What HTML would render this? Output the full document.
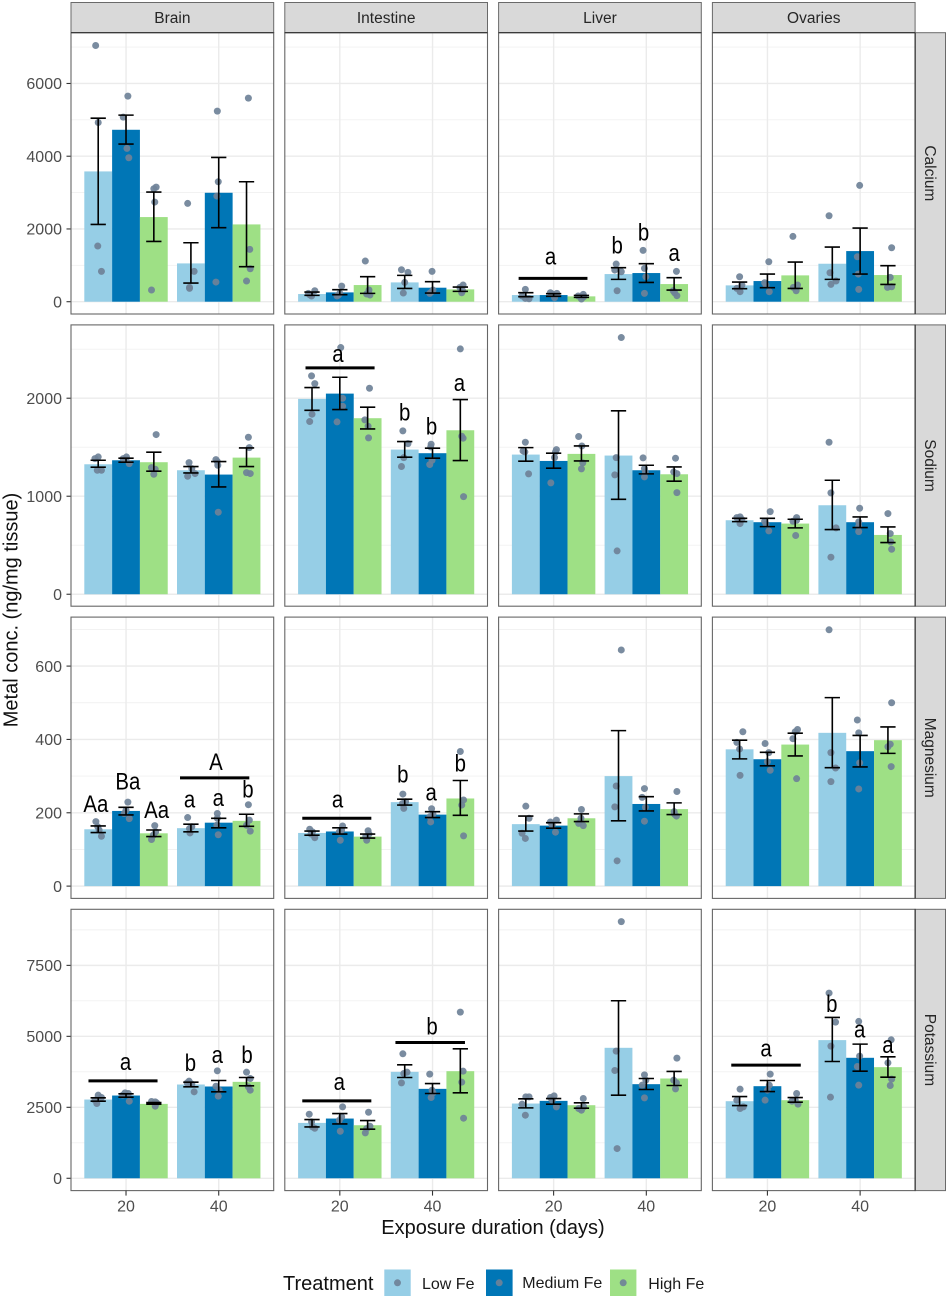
<!DOCTYPE html>
<html lang="en">
<head>
<meta charset="utf-8">
<title>Metal concentration by tissue and exposure duration</title>
<style>
html,body{margin:0;padding:0;background:#fff;}
body{width:948px;height:1298px;overflow:hidden;}
svg{display:block;font-family:"Liberation Sans",Arial,sans-serif;}
</style>
</head>
<body>
<svg id="chart" width="948" height="1298" viewBox="0 0 948 1298" xmlns="http://www.w3.org/2000/svg">
  <rect width="948" height="1298" fill="#ffffff"/>
  <g id="panels"></g>
  <text transform="translate(17.5 610) rotate(-90)" text-anchor="middle" font-size="20" fill="#111">Metal conc. (ng/mg tissue)</text>
  <text x="493" y="1234" text-anchor="middle" font-size="20" fill="#111">Exposure duration (days)</text>
  <g>
    <text x="283" y="1290" font-size="20" fill="#111">Treatment</text>
    <g>
      <rect x="384.3" y="1269.5" width="26.4" height="26.5" fill="#96cee6"/>
      <circle cx="397.5" cy="1282.8" r="3.5" fill="#6f8298" fill-opacity="0.92"/>
      <text x="422" y="1289" font-size="16" fill="#1a1a1a">Low Fe</text>
    </g>
    <g>
      <rect x="486" y="1269.5" width="26.6" height="26.5" fill="#0076b6"/>
      <circle cx="499.2" cy="1282.8" r="3.5" fill="#6f8298" fill-opacity="0.92"/>
      <text x="522.3" y="1288" font-size="16" fill="#1a1a1a">Medium Fe</text>
    </g>
    <g>
      <rect x="610" y="1269.5" width="26.4" height="26.5" fill="#9ee085"/>
      <circle cx="623.2" cy="1282.8" r="3.5" fill="#6f8298" fill-opacity="0.92"/>
      <text x="648.3" y="1289" font-size="16" fill="#1a1a1a">High Fe</text>
    </g>
  </g>
</svg>
<script>
const tissues = ['Brain', 'Intestine', 'Liver', 'Ovaries'];
const metals = ['Calcium', 'Sodium', 'Magnesium', 'Potassium'];
const durations = [20, 40];
const treatments = ['Low Fe', 'Medium Fe', 'High Fe'];

const calciumTicks = [0, 2000, 4000, 6000];
const sodiumTicks = [0, 1000, 2000];
const magnesiumTicks = [0, 200, 400, 600];
const potassiumTicks = [0, 2500, 5000, 7500];

const calciumDomain = [-338, 7396];
const sodiumDomain = [-122, 2748];
const magnesiumDomain = [-33.5, 733.6];
const potassiumDomain = [-434, 9475];

/* Each metal: one row per tissue, six bars per tissue (Low, Medium, High at 20 d, then at 40 d). */
const calciumMeans = [
  [3582, 4727, 2327, 1053, 2995, 2125],
  [211, 256, 458, 531, 385, 339],
  [183, 183, 147, 760, 788, 485],
  [449, 568, 724, 1044, 1392, 733]
];
const calciumLower = [
  [2125, 4333, 1658, 513, 2034, 962],
  [174, 192, 229, 366, 238, 284],
  [137, 147, 119, 614, 531, 321],
  [357, 385, 366, 614, 760, 476]
];
const calciumUpper = [
  [5047, 5130, 3014, 1621, 3966, 3298],
  [266, 330, 687, 724, 550, 403],
  [247, 220, 174, 934, 1044, 660],
  [540, 760, 1090, 1502, 2024, 989]
];
const sodiumMeans = [
  [1326, 1367, 1347, 1265, 1221, 1394],
  [1993, 2047, 1796, 1476, 1439, 1673],
  [1425, 1360, 1432, 1415, 1265, 1224],
  [755, 735, 721, 908, 735, 605]
];
const sodiumLower = [
  [1296, 1347, 1255, 1238, 1095, 1303],
  [1877, 1884, 1687, 1398, 1388, 1364],
  [1357, 1286, 1360, 969, 1228, 1153],
  [741, 690, 677, 660, 680, 527]
];
const sodiumUpper = [
  [1367, 1388, 1449, 1303, 1354, 1493],
  [2109, 2214, 1908, 1558, 1490, 1986],
  [1496, 1439, 1513, 1871, 1316, 1299],
  [775, 775, 765, 1163, 789, 687]
];
const magnesiumMeans = [
  [155, 205, 144, 158, 173, 178],
  [145, 149, 135, 229, 195, 239],
  [169, 165, 185, 300, 224, 210],
  [373, 346, 386, 418, 368, 398]
];
const magnesiumLower = [
  [146, 194, 135, 148, 159, 163],
  [139, 142, 131, 221, 187, 193],
  [150, 158, 176, 178, 205, 195],
  [347, 328, 355, 323, 325, 362]
];
const magnesiumUpper = [
  [164, 215, 153, 169, 185, 196],
  [150, 159, 142, 237, 203, 288],
  [191, 173, 197, 424, 244, 227],
  [398, 365, 417, 514, 411, 434]
];
const potassiumMeans = [
  [2774, 2915, 2621, 3303, 3233, 3397],
  [1951, 2104, 1869, 3750, 3150, 3773],
  [2633, 2727, 2574, 4596, 3315, 3515],
  [2715, 3244, 2751, 4867, 4244, 3914]
];
const potassiumLower = [
  [2715, 2857, 2610, 3221, 3045, 3256],
  [1810, 1916, 1728, 3550, 2986, 3009],
  [2480, 2610, 2469, 2927, 3127, 3268],
  [2563, 3056, 2680, 4114, 3773, 3562]
];
const potassiumUpper = [
  [2833, 2974, 2668, 3385, 3444, 3550],
  [2069, 2280, 2034, 3997, 3338, 4561],
  [2798, 2809, 2657, 6254, 3515, 3762],
  [2880, 3444, 2845, 5666, 4726, 4279]
];

/* Replicate measurements as [days with jitter, concentration]. */
const calciumPoints = [
  [
    [[13.45,7044],[14.0,4928],[13.9,1530],[14.7,834]],
    [[20.4,5652],[19.4,5075],[20.2,4214],[20.6,3957]],
    [[26.0,3105],[26.5,3151],[26.2,2739],[25.5,321]],
    [[33.3,2702],[34.7,834],[33.7,366],[33.7,394]],
    [[39.7,5240],[39.9,3298],[39.6,2904],[39.4,540]],
    [[46.4,5597],[46.7,1438],[46.8,907],[46.0,568]]
  ],
  [
    [[14.6,302],[13.9,156],[13.2,229],[13.5,192]],
    [[20.4,430],[19.4,156],[20.0,229],[19.7,183]],
    [[25.5,1118],[26.3,321],[25.8,211],[26.5,183]],
    [[33.3,879],[34.7,806],[33.7,238],[34.0,530]],
    [[39.9,834],[39.4,229],[40.1,321],[39.8,275]],
    [[46.6,458],[45.9,394],[46.3,247],[46.5,302]]
  ],
  [
    [[13.9,339],[13.2,156],[14.7,82],[13.9,92]],
    [[19.3,247],[20.7,229],[20.2,110],[19.7,211]],
    [[26.4,202],[25.3,156],[26.0,73],[26.5,137]],
    [[33.5,1035],[34.6,824],[33.7,302],[33.2,870]],
    [[39.3,1411],[39.6,916],[39.6,229],[39.9,687]],
    [[46.5,834],[45.8,302],[46.6,165],[46.1,247]]
  ],
  [
    [[14.0,687],[14.5,458],[13.4,366],[14.1,275]],
    [[20.3,1099],[19.4,522],[20.4,275],[19.7,458]],
    [[25.5,1795],[26.5,458],[26.2,302],[25.6,394]],
    [[33.3,2363],[33.5,797],[34.8,568],[33.7,476]],
    [[39.9,3197],[39.4,1237],[39.6,760],[39.7,339]],
    [[46.8,1484],[46.5,669],[45.9,394],[46.8,412]]
  ]
];
const sodiumPoints = [
  [
    [[14.0,1401],[13.3,1384],[13.8,1265],[14.7,1265]],
    [[20.1,1401],[19.4,1384],[20.7,1333],[20.0,1374]],
    [[26.5,1629],[25.5,1292],[26.3,1275],[26.0,1224]],
    [[33.6,1343],[34.2,1282],[34.9,1231],[33.3,1204]],
    [[39.4,1374],[39.8,1316],[39.7,1354],[39.9,837]],
    [[46.4,1602],[46.6,1496],[46.0,1241],[46.8,1231]]
  ],
  [
    [[13.9,2228],[14.6,2149],[14.0,1837],[13.5,1762]],
    [[20.2,2517],[20.6,2000],[20.6,1918],[19.4,1758]],
    [[26.4,2102],[25.4,1779],[26.1,1714],[26.2,1595]],
    [[33.6,1667],[34.7,1537],[33.8,1394],[33.3,1303]],
    [[39.7,1530],[39.6,1503],[39.9,1367],[39.4,1323]],
    [[46.0,2503],[46.3,1612],[46.6,1592],[46.7,996]]
  ],
  [
    [[13.9,1551],[13.4,1462],[13.8,1452],[14.6,1228]],
    [[20.6,1476],[20.2,1394],[20.4,1452],[19.4,1136]],
    [[25.4,1609],[26.1,1513],[26.3,1340],[26.0,1279]],
    [[34.6,2619],[33.5,1394],[33.2,1218],[33.7,442]],
    [[39.3,1391],[39.6,1282],[39.8,1248],[39.6,1197]],
    [[46.3,1388],[45.9,1248],[46.6,1231],[46.6,1037]]
  ],
  [
    [[13.4,782],[14.1,789],[14.5,762],[14.1,721]],
    [[20.6,843],[19.4,745],[19.7,714],[20.3,646]],
    [[26.3,782],[25.5,745],[26.3,755],[26.1,599]],
    [[33.3,1551],[33.7,1034],[34.8,677],[33.7,378]],
    [[39.9,877],[39.7,738],[39.7,694],[39.7,639]],
    [[46.0,823],[46.5,619],[46.6,534],[46.8,459]]
  ]
];
const magnesiumPoints = [
  [
    [[13.5,176],[14.7,136],[14.2,153],[13.9,162]],
    [[20.4,229],[20.7,184],[20.0,207],[19.6,198]],
    [[26.2,165],[25.5,127],[26.4,148],[25.9,139]],
    [[33.3,187],[33.8,145],[34.2,162],[33.7,157]],
    [[39.7,198],[39.9,140],[39.7,185],[39.6,166]],
    [[46.4,222],[46.6,180],[46.8,150],[46.0,166]]
  ],
  [
    [[13.5,155],[14.6,132],[14.1,148],[13.8,142]],
    [[20.6,164],[20.1,125],[19.9,148],[20.4,153]],
    [[26.1,151],[25.8,125],[26.3,142],[25.6,135]],
    [[33.6,251],[33.8,212],[34.2,230],[33.5,225]],
    [[39.8,211],[39.6,175],[40.1,196],[39.4,189]],
    [[46.0,367],[46.7,235],[46.3,221],[46.7,137]]
  ],
  [
    [[14.0,218],[14.7,185],[13.2,144],[13.9,130]],
    [[19.3,175],[20.6,180],[20.4,147],[19.7,166]],
    [[26.0,209],[25.4,171],[26.4,165],[25.9,185]],
    [[34.6,644],[33.5,273],[33.2,216],[33.7,69]],
    [[39.6,266],[39.1,242],[39.8,215],[39.6,177]],
    [[46.6,258],[46.0,203],[46.5,191],[46.1,196]]
  ],
  [
    [[14.7,421],[13.4,392],[14.0,374],[14.1,302]],
    [[19.5,389],[20.3,364],[20.6,316],[20.0,339]],
    [[26.5,427],[26.0,421],[25.5,402],[26.3,293]],
    [[33.3,699],[33.7,364],[34.7,322],[33.7,285]],
    [[39.4,453],[39.7,418],[39.9,336],[39.7,265]],
    [[46.8,500],[46.5,387],[46.0,380],[46.7,326]]
  ]
];
const potassiumPoints = [
  [
    [[14.0,2927],[14.7,2845],[13.7,2633],[13.3,2751]],
    [[19.8,3009],[20.5,2986],[20.7,2715],[19.3,2927]],
    [[25.5,2704],[26.3,2692],[26.3,2539],[26.6,2657]],
    [[33.6,3421],[34.2,3315],[34.7,3045],[33.2,3362]],
    [[39.7,3785],[39.4,3244],[39.9,2892],[40.1,3103]],
    [[46.0,3738],[46.8,3515],[46.4,3221],[46.8,3103]]
  ],
  [
    [[13.4,2257],[14.1,1810],[14.6,1763],[13.9,1987]],
    [[20.6,2516],[20.1,1657],[20.4,2163],[19.9,2045]],
    [[26.2,2327],[25.5,1599],[26.5,1834],[25.8,1751]],
    [[33.6,4385],[34.5,3738],[33.3,3362],[33.8,3691]],
    [[39.4,3668],[39.9,3103],[39.7,2845],[40.1,3009]],
    [[46.0,5854],[46.6,3773],[46.3,3385],[46.7,2116]]
  ],
  [
    [[14.0,2868],[14.7,2868],[13.2,2610],[13.9,2222]],
    [[19.3,2845],[20.1,2904],[20.6,2516],[19.7,2751]],
    [[26.4,2809],[25.4,2457],[26.0,2398],[26.5,2516]],
    [[34.6,9040],[33.5,4479],[33.2,3797],[33.7,1046]],
    [[39.6,3644],[39.1,3280],[39.6,2833],[39.9,3456]],
    [[46.6,4232],[46.5,3362],[46.3,3150],[45.9,3456]]
  ],
  [
    [[14.1,3139],[13.4,2751],[14.1,2457],[14.8,2516]],
    [[20.6,3668],[20.4,3280],[19.5,2751],[20.0,3103]],
    [[26.3,2986],[25.3,2715],[26.6,2610],[26.0,2751]],
    [[33.3,6524],[34.7,5501],[33.7,4655],[33.6,2857]],
    [[39.7,5525],[39.9,4302],[39.4,3938],[39.7,3280]],
    [[46.7,4878],[46.0,4067],[46.8,3491],[46.5,3268]]
  ]
];

/* Significance letters: metal, tissue, letter, days, concentration at the baseline. */
const letterLabels = [
  ['Calcium','Liver','a',19.35,1026],
  ['Calcium','Liver','b',33.7,1328],
  ['Calcium','Liver','b',39.4,1685],
  ['Calcium','Liver','a',46,1117],
  ['Sodium','Intestine','a',19.6,2367],
  ['Sodium','Intestine','a',45.8,2075],
  ['Sodium','Intestine','b',34,1775],
  ['Sodium','Intestine','b',39.8,1632],
  ['Magnesium','Brain','Aa',13.5,202],
  ['Magnesium','Brain','Ba',20.4,264],
  ['Magnesium','Brain','Aa',26.6,186],
  ['Magnesium','Brain','A',39.4,316],
  ['Magnesium','Brain','a',33.7,215],
  ['Magnesium','Brain','a',39.9,218],
  ['Magnesium','Brain','b',46.3,241],
  ['Magnesium','Intestine','a',19.5,215],
  ['Magnesium','Intestine','b',33.6,282],
  ['Magnesium','Intestine','a',39.7,234],
  ['Magnesium','Intestine','b',46,312],
  ['Potassium','Brain','a',19.9,3820],
  ['Potassium','Brain','b',33.9,3773],
  ['Potassium','Brain','a',39.7,4067],
  ['Potassium','Brain','b',46.1,4055],
  ['Potassium','Intestine','a',19.9,3103],
  ['Potassium','Intestine','b',39.9,5066],
  ['Potassium','Ovaries','a',19.7,4290],
  ['Potassium','Ovaries','b',33.9,5866],
  ['Potassium','Ovaries','a',39.9,4961],
  ['Potassium','Ovaries','a',46,4420]
];
/* Grouping bars: metal, tissue, start days, end days, concentration. */
const groupBars = [
  ['Calcium','Liver',12.45,27.3,641],
  ['Sodium','Intestine',12.6,27.5,2309],
  ['Magnesium','Brain',31.65,46.6,295],
  ['Magnesium','Intestine',11.9,26.8,185],
  ['Potassium','Brain',11.9,26.8,3432],
  ['Potassium','Intestine',11.9,26.8,2727],
  ['Potassium','Intestine',32,47,4784],
  ['Potassium','Ovaries',12.2,27.2,3985]
];

const metalTicks = [calciumTicks, sodiumTicks, magnesiumTicks, potassiumTicks];
const metalDomains = [calciumDomain, sodiumDomain, magnesiumDomain, potassiumDomain];
const metalMeans = [calciumMeans, sodiumMeans, magnesiumMeans, potassiumMeans];
const metalLower = [calciumLower, sodiumLower, magnesiumLower, potassiumLower];
const metalUpper = [calciumUpper, sodiumUpper, magnesiumUpper, potassiumUpper];
const metalPoints = [calciumPoints, sodiumPoints, magnesiumPoints, potassiumPoints];

const NS = 'http://www.w3.org/2000/svg';
const PANEL_W = 202.7, PANEL_H = 281.3, COL_STEP = 213.8, ROW_STEP = 292.2;
const PANEL_X0 = 71, PANEL_Y0 = 32.7;
const X_MIN = 8.13, PX_PER_DAY = 4.635;
const BAR_DAYS = 6, CAP_DAYS = 1.65;
const treatmentFills = ['#96cee6', '#0076b6', '#9ee085'];
const root = document.getElementById('panels');

function panelLeft(c) { return PANEL_X0 + c * COL_STEP; }
function panelTop(r) { return PANEL_Y0 + r * ROW_STEP; }
function xScale(c, days) { return panelLeft(c) + (days - X_MIN) * PX_PER_DAY; }
function yScale(r, value) {
  const d = metalDomains[r];
  return panelTop(r) + PANEL_H - (value - d[0]) / (d[1] - d[0]) * PANEL_H;
}
function make(tag, attrs, parent) {
  const el = document.createElementNS(NS, tag);
  for (const k in attrs) el.setAttribute(k, attrs[k]);
  parent.appendChild(el);
  return el;
}

/* Column strips */
tissues.forEach(function (tissue, c) {
  const strip = make('rect', { x: panelLeft(c), y: 2.5, width: PANEL_W, height: 30.2, fill: '#d9d9d9', stroke: '#6a6a6a', 'stroke-width': 1 }, root);
  
  
  const label = make('text', { x: panelLeft(c) + PANEL_W / 2, y: 23, 'text-anchor': 'middle', 'font-size': 15.5, fill: '#262626' }, root);
  label.textContent = tissue;
  
  
});

metals.forEach(function (metal, r) {
  const top = panelTop(r);
  const ticks = metalTicks[r];
  const step = ticks[1] - ticks[0];

  /* Row strip */
  const strip = make('rect', { x: panelLeft(3) + PANEL_W, y: top, width: 30.4, height: PANEL_H, fill: '#d9d9d9', stroke: '#6a6a6a', 'stroke-width': 1 }, root);
  
  
  const stripLabel = make('text', { transform: 'translate(925 ' + (top + PANEL_H / 2) + ') rotate(90)', 'text-anchor': 'middle', 'font-size': 15.5, fill: '#262626' }, root);
  stripLabel.textContent = metal;
  
  

  /* Y axis ticks and labels on the first column */
  ticks.forEach(function (t) {
    const y = yScale(r, t);
    const tick = make('line', { x1: 66.5, x2: PANEL_X0, y1: y, y2: y, stroke: '#333', 'stroke-width': 1.1 }, root);
    
    
    const tl = make('text', { x: 62, y: y + 5.7, 'text-anchor': 'end', 'font-size': 16, fill: '#4d4d4d' }, root);
    tl.textContent = String(t);
    
    
  });

  tissues.forEach(function (tissue, c) {
    const left = panelLeft(c);
    const g = make('g', {}, root);
    
    

    const bg = make('rect', { x: left, y: top, width: PANEL_W, height: PANEL_H, fill: '#ffffff' }, g);
    
    

    /* Horizontal gridlines: major at ticks, minor at midpoints */
    const dom = metalDomains[r];
    for (let v = 0; v <= dom[1]; v += step / 2) {
      const y = yScale(r, v);
      const isMajor = v % step === 0;
      const grid = make('line', { x1: left, x2: left + PANEL_W, y1: y, y2: y, stroke: isMajor ? '#ebebeb' : '#f1f1f1', 'stroke-width': isMajor ? 1.4 : 0.9 }, g);
      
      
    }
    /* Vertical gridlines */
    durations.forEach(function (d) {
      const x = xScale(c, d);
      const vg = make('line', { x1: x, x2: x, y1: top, y2: top + PANEL_H, stroke: '#ebebeb', 'stroke-width': 1.4 }, g);
      
      
    });

    /* Bars */
    const means = metalMeans[r][c];
    const lower = metalLower[r][c];
    const upper = metalUpper[r][c];
    const points = metalPoints[r][c];
    const centers = [];
    durations.forEach(function (d) {
      treatments.forEach(function (tr, k) {
        centers.push({ days: d + (k - 1) * BAR_DAYS, k: k });
      });
    });
    means.forEach(function (m, i) {
      const cx = xScale(c, centers[i].days);
      const w = BAR_DAYS * PX_PER_DAY;
      const y0 = yScale(r, 0);
      const y1 = yScale(r, m);
      const bar = make('rect', { x: cx - w / 2, y: y1, width: w, height: y0 - y1, fill: treatmentFills[centers[i].k] }, g);
      
      
    });
    /* Replicate points */
    points.forEach(function (group) {
      group.forEach(function (p) {
        const dot = make('circle', { cx: xScale(c, p[0]), cy: yScale(r, p[1]), r: 3.5, fill: '#6f8298', 'fill-opacity': 0.92 }, g);
        
        
      });
    });
    /* Error bars */
    means.forEach(function (m, i) {
      const d = centers[i].days;
      const x = xScale(c, d);
      const x0 = xScale(c, d - CAP_DAYS);
      const x1 = xScale(c, d + CAP_DAYS);
      const yL = yScale(r, lower[i]);
      const yU = yScale(r, upper[i]);
      const eb = make('path', { d: 'M' + x0 + ' ' + yU + 'H' + x1 + 'M' + x + ' ' + yU + 'V' + yL + 'M' + x0 + ' ' + yL + 'H' + x1, fill: 'none', stroke: '#000', 'stroke-width': 1.6 }, g);
      
      
    });
    /* Panel border */
    const border = make('rect', { x: left, y: top, width: PANEL_W, height: PANEL_H, fill: 'none', stroke: '#666666', 'stroke-width': 1.1 }, g);
    
    

    /* X axis on the bottom row */
    if (r === metals.length - 1) {
      durations.forEach(function (d) {
        const x = xScale(c, d);
        const tick = make('line', { x1: x, x2: x, y1: top + PANEL_H, y2: top + PANEL_H + 5, stroke: '#333', 'stroke-width': 1.1 }, root);
        
        
        const tl = make('text', { x: x, y: 1211.5, 'text-anchor': 'middle', 'font-size': 16, fill: '#4d4d4d' }, root);
        tl.textContent = String(d);
        
        
      });
    }
  });

  /* Dark seam between the last column and its row strip */
  const seam = make('line', { x1: panelLeft(3) + PANEL_W, x2: panelLeft(3) + PANEL_W, y1: top, y2: top + PANEL_H, stroke: '#333333', 'stroke-width': 1.2 }, root);
  
  
});

/* Dark seam beneath the column strips */
tissues.forEach(function (tissue, c) {
  const seam = make('line', { x1: panelLeft(c), x2: panelLeft(c) + PANEL_W, y1: PANEL_Y0, y2: PANEL_Y0, stroke: '#333333', 'stroke-width': 1.2 }, root);
  
  
});

/* Grouping bars */
groupBars.forEach(function (b) {
  const r = metals.indexOf(b[0]);
  const c = tissues.indexOf(b[1]);
  const y = yScale(r, b[4]);
  const line = make('line', { x1: xScale(c, b[2]), x2: xScale(c, b[3]), y1: y, y2: y, stroke: '#000', 'stroke-width': 3 }, root);
  
  
});
/* Significance letters */
letterLabels.forEach(function (l) {
  const r = metals.indexOf(l[0]);
  const c = tissues.indexOf(l[1]);
  const t = make('text', { transform: 'translate(' + xScale(c, l[3]) + ' ' + yScale(r, l[4]) + ') scale(0.85 1)', 'text-anchor': 'middle', 'font-size': 24, fill: '#000' }, root);
  t.textContent = l[2];
  
  
});
</script>
</body>
</html>
